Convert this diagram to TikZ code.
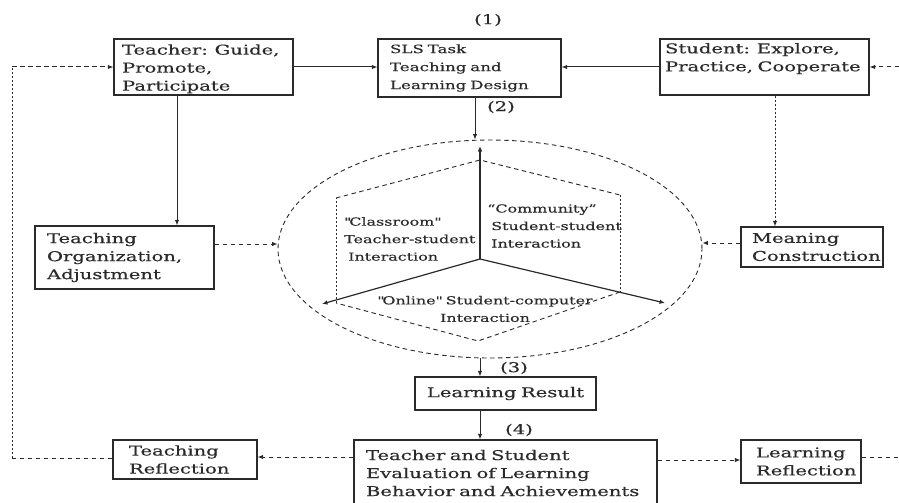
\documentclass[tikz,border=0pt]{standalone}
\usepackage{fontspec}
\setmainfont[FakeStretch=1.45,FakeBold=0.4]{DejaVu Serif}
\usetikzlibrary{shapes.geometric,arrows.meta}
\definecolor{ink}{HTML}{2A2A2A}
\newcommand\bxfont{\fontsize{13.5}{18}\selectfont}
\newcommand\slsfont{\fontsize{11.5}{18}\selectfont}
\newcommand\infont{\fontsize{11}{17.5}\selectfont}
\begin{document}
\begin{tikzpicture}[x=1pt,y=-1pt]
\tikzset{
  box/.style={draw=ink, line width=1.2pt, inner ysep=0pt, align=left, font=\bxfont, text=ink},
  arr/.style={-{Latex[length=5.5pt,width=4.5pt]}, line width=1pt, draw=ink},
  dsh/.style={dash pattern=on 4.5pt off 3.5pt},
  dot/.style={dash pattern=on 2pt off 2pt},
  lbl/.style={font=\bxfont, text=ink, inner sep=0pt},
  inlbl/.style={font=\infont, text=ink, inner sep=0pt},
}
\useasboundingbox (0,0) rectangle (899,503);
% boxes
\node[box, inner xsep=8pt, text width=163pt, minimum height=56pt] (teacher) at (203.5,67) {\rule{0pt}{14pt}Teacher: Guide,\\Promote,\\Participate};
\node[box, font=\slsfont, inner xsep=12pt, text width=159pt, minimum height=58pt] (sls) at (469.5,68) {SLS Task\\Teaching and\\Learning Design};
\node[box, inner xsep=5pt, text width=199pt, minimum height=56pt] (student) at (764.5,67) {\rule{0pt}{14pt}Student: Explore,\\Practice, Cooperate\\\strut};
\node[box, inner xsep=12pt, text width=155pt, minimum height=63pt] (org) at (124.5,257.5) {Teaching\\Organization,\\Adjustment};
\node[box, inner xsep=11pt, text width=120pt, minimum height=40pt] (meaning) at (812,247) {Meaning\\Construction};
\node[box, align=center, inner xsep=0pt, text width=181pt, minimum height=33pt] (result) at (505.5,393.5) {Learning Result};
\node[box, inner xsep=12pt, text width=279pt, minimum height=66pt] (eval) at (505.5,473) {Teacher and Student\\Evaluation of Learning\\Behavior and Achievements};
\node[box, inner xsep=16pt, text width=112pt, minimum height=39pt] (trefl) at (185,459.5) {Teaching\\Reflection};
\node[box, inner xsep=15pt, text width=90pt, minimum height=43pt] (lrefl) at (801,461.5) {Learning\\Reflection};
% ellipse
\node[draw=ink, dsh, ellipse, line width=0.9pt, minimum width=424pt, minimum height=218pt, inner sep=0pt] (ell) at (490,249) {};
% star
\coordinate (o) at (480,259);
\coordinate (tu) at (480,146);
\coordinate (tl) at (322,304);
\coordinate (tr) at (665,303);
\coordinate (h1) at (480,160);
\coordinate (h2) at (620,195);
\coordinate (h3) at (620,292);
\coordinate (h4) at (478,341);
\coordinate (h5) at (336,303);
\coordinate (h6) at (336,198);
\draw[ink, line width=0.9pt, dsh] (h6) -- (h1) -- (h2);
\draw[ink, line width=0.9pt, dot] (h2) -- (h3);
\draw[ink, line width=0.9pt, dsh] (h3) -- (h4) -- (h5);
\draw[ink, line width=0.9pt, dot] (h5) -- (h6);
\draw[arr, line width=1.2pt] (o) -- (tu);
\draw[arr, line width=1.2pt] (o) -- (tl);
\draw[arr, line width=1.2pt] (o) -- (tr);
\node[inlbl, align=left, anchor=west] (cls) at (344,239) {\textquotedbl Classroom\textquotedbl\\Teacher-student\\\hspace{4pt}Interaction};
\node[inlbl, align=left, anchor=west] (com) at (487,226) {``Community''\\\hspace{4pt}Student-student\\\hspace{4pt}Interaction};
\node[inlbl, align=center] (onl) at (485,309) {\textquotedbl Online\textquotedbl{} Student-computer\\Interaction};
% numbers
\node[lbl] (n1) at (488,20) {(1)};
\node[lbl] (n2) at (501,107) {(2)};
\node[lbl] (n3) at (514,368) {(3)};
\node[lbl] (n4) at (519,430) {(4)};
% helper coordinates
\coordinate (c2) at (475,0);
\coordinate (c4) at (0,244);
\coordinate (c5) at (0,243);
\coordinate (c6) at (775,0);
\coordinate (c7) at (0,457);
\coordinate (c8) at (0,460);
\coordinate (rout) at (899,457);
\coordinate (rin) at (899,67);
\coordinate (lb) at (12,458);
\coordinate (lt) at (12,67);
% connectors
\draw[arr] (teacher.east) -- (teacher.east -| sls.west);
\draw[arr] (student.west) -- (student.west -| sls.east);
\draw[arr] ([xshift=-26.5pt]teacher.south) -- ([xshift=-26.5pt]teacher.south |- org.north);
\draw[arr] (c2 |- sls.south) -- (c2 |- ell.north);
\draw[arr, dsh] (org.east |- c4) -- (ell.west |- c4);
\draw[arr, dsh] (meaning.west |- c5) -- (ell.east |- c5);
\draw[arr, dot] (c6 |- student.south) -- (c6 |- meaning.north);
\draw[arr] (o |- ell.south) -- (o |- result.north);
\draw[arr] (o |- result.south) -- (o |- eval.north);
\draw[arr, dsh] (eval.west |- c7) -- (trefl.east |- c7);
\draw[arr, dsh] (eval.east |- c8) -- (lrefl.west |- c8);
\draw[ink, line width=1pt, dsh] (lrefl.east |- rout) -- (rout);
\draw[arr, dsh] (rin) -- (rin -| student.east);
\draw[ink, line width=1pt, dsh] (trefl.west |- lb) -- (lb);
\draw[ink, line width=1pt, dot] (lb) -- (lt);
\draw[arr, dsh] (lt) -- (lt -| teacher.west);
\end{tikzpicture}
\end{document}
